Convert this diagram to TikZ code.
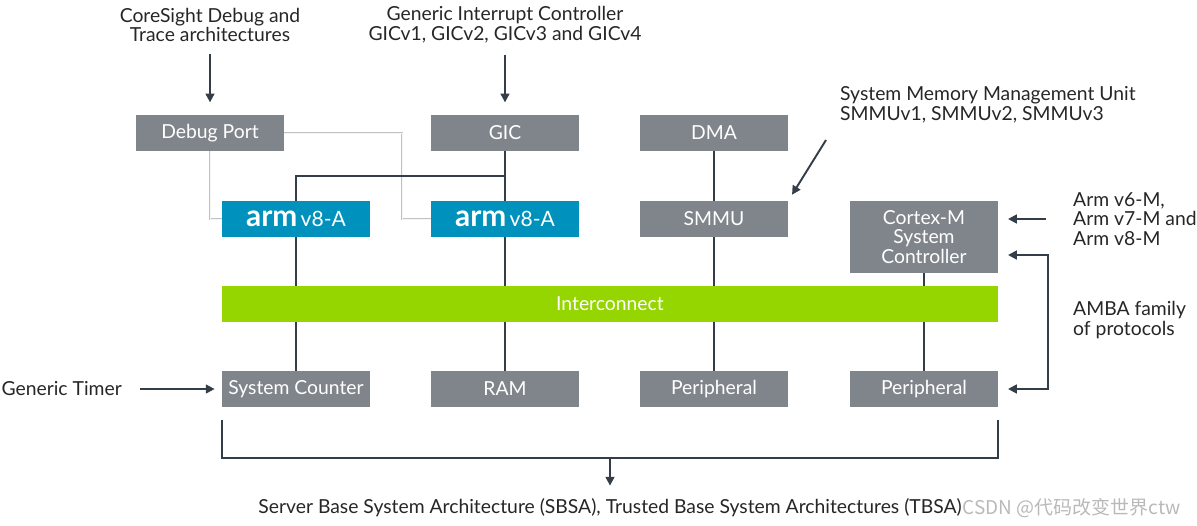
\documentclass[tikz,border=0pt]{standalone}
\usepackage{fontspec}
\setmainfont{Lato}
\newfontfamily\cjkfont{Noto Sans CJK SC}
\usetikzlibrary{arrows.meta,backgrounds,positioning}
\definecolor{boxgray}{RGB}{127,133,139}
\definecolor{armblue}{RGB}{0,145,189}
\definecolor{busgreen}{RGB}{149,214,0}
\definecolor{linkdark}{RGB}{51,62,72}
\definecolor{dbglight}{RGB}{190,194,197}
\newcommand\armlogo{{\fontsize{17}{17}\selectfont\bfseries arm}\,{\fontsize{12}{12}\selectfont v8-A}}
\begin{document}
\begin{tikzpicture}[x=0.02cm,y=-0.02cm,
    every node/.style={font=\fontsize{11}{11.2}\selectfont},
    unit/.style={fill=boxgray,text=white,minimum width=2.96cm,minimum height=0.72cm,inner sep=0pt},
    core/.style={unit,fill=armblue},
    bus/.style={fill=busgreen,text=white,minimum width=15.52cm,minimum height=0.72cm,inner sep=0pt},
    link/.style={draw=linkdark,line width=1.1pt},
    dbg/.style={draw=dbglight,line width=0.35pt,double=gray!8,double distance=0.5pt},
    arr/.style={link,-{Triangle[length=5pt,width=5pt]}},
    lbl/.style={align=center,text=black!85}]
    \useasboundingbox (0,0) rectangle (1197,525);
    %% blocks
    \node[unit] (dbgport) at (210,133) {Debug Port};
    \node[unit] (gic) at (505,133) {GIC};
    \node[unit] (dma) at (714,133) {DMA};
    \node[core] (cpua) at (296,219) {\armlogo};
    \node[core] (cpub) at (505,219) {\armlogo};
    \node[unit] (smmu) at (714,219) {SMMU};
    \node[unit,minimum height=1.44cm,align=center] (cortexm) at (924,237) {Cortex-M\\System\\Controller};
    \node[bus] (noc) at (610,304) {Interconnect};
    \node[unit] (counter) at (296,389) {System Counter};
    \node[unit] (ram) at (505,389) {RAM};
    \node[unit] (perifa) at (714,389) {Peripheral};
    \node[unit] (perifb) at (924,389) {Peripheral};
    %% labels
    \node[lbl] (coresight) at (210,25) {CoreSight Debug and\\Trace architectures};
    \node[lbl] (gicspec) at (505,25) {Generic Interrupt Controller\\GICv1, GICv2, GICv3 and GICv4};
    \node[lbl,anchor=west,align=left] (smmuspec) at (834,105) {System Memory Management Unit\\SMMUv1, SMMUv2, SMMUv3};
    \node[lbl,anchor=west,align=left] (mspec) at (1067,219) {Arm v6-M,\\Arm v7-M and\\Arm v8-M};
    \node[lbl,anchor=west,align=left] (amba) at (1067,320) {AMBA family\\of protocols};
    \node[lbl,anchor=east] (timer) at (128,389) {Generic Timer};
    \node[lbl] (sbsa) at (610,508) {Server Base System Architecture (SBSA), Trusted Base System Architectures (TBSA)};
    \node[anchor=west,inner sep=0pt,text=gray!55] (mark) at ([xshift=-3pt]sbsa.east) {\cjkfont\fontsize{10.8}{10.8}\selectfont CSDN @代码改变世界ctw};
    \coordinate (gicfork) at (505,176);
    \coordinate (dbgturn) at (402,133);
    \coordinate (smmutail) at (826,140);
    \coordinate (ambatop) at (1048,255);
    \coordinate (ambabot) at (1048,389);
    \coordinate (sbsabar) at (610,458);
    %% connections behind the blocks
    \begin{scope}[on background layer]
        \draw[dbg] (dbgport.south) |- (cpua.west);
        \draw[dbg] (dbgport.east) -- (dbgturn) |- (cpub.west);
        \draw[link] (gic) -- (cpub);
        \draw[link] (cpua.north) |- (gicfork);
        \foreach \a/\b in {cpua/counter,cpub/ram,dma/perifa,cortexm/perifb} \draw[link] (\a) -- (\b);
    \end{scope}
    %% arrows
    \draw[arr,shorten <=3pt,shorten >=7pt] (coresight.south) -- (dbgport.north);
    \draw[arr,shorten <=3pt,shorten >=7pt] (gicspec.south) -- (gic.north);
    \draw[arr,shorten >=4pt] (smmutail) -- (smmu.north east);
    \draw[arr,shorten <=12pt,shorten >=5.5pt] (mspec.west) -- (mspec.west -| cortexm.east);
    \draw[link,{Triangle[length=5pt,width=5pt]}-{Triangle[length=5pt,width=5pt]},shorten <=5.5pt,shorten >=5.5pt] (ambatop -| cortexm.east) -- (ambatop) -- (ambabot) -- (perifb.east);
    \draw[arr,shorten <=7pt,shorten >=4pt] (timer.east) -- (counter.west);
    \draw[link] ([yshift=-7pt]counter.south west) |- (sbsabar) -| ([yshift=-7pt]perifb.south east);
    \draw[arr,shorten >=4pt] (sbsabar) -- (sbsa.north);
\end{tikzpicture}
\end{document}
